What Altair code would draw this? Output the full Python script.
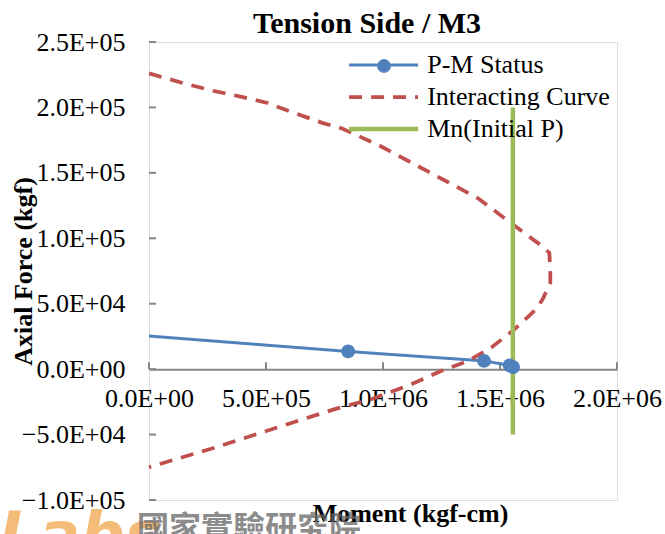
import altair as alt
import pandas as pd

# Series names and Excel-style colours
SERIES = ["P-M Status", "Interacting Curve", "Mn(Initial P)"]
COLORS = ["#4F81BD", "#C0504D", "#9BBB59"]

# P-M status path (moment kgf-cm, axial force kgf)
status_m = [0, 851000, 1432000, 1541000, 1556000]
status_p = [25300, 13500, 6300, 2900, 1600]

# Interaction curve (tension side)
curve_m = [0, 145700, 266000, 386600, 506800, 620000, 740500, 825000, 981000,
           1194000, 1406000, 1604000, 1682000, 1711000, 1715000, 1715000,
           1682000, 1654000, 1562000, 1463000, 1364000, 1250000, 1123000,
           953000, 797000, 528000, 287600, 0]
curve_p = [226000, 218600, 213000, 208500, 203400, 195800, 188200, 183900, 171200,
           150900, 130600, 104000, 93800, 88800, 73600, 66000,
           53300, 45700, 30400, 16500, 6300, -1300, -11400,
           -22800, -30400, -45700, -59600, -75000]

# Nominal moment at the initial axial load
mn_m = [1555000, 1555000]
mn_p = [-50000, 200000]

# Axis tick values
x_ticks = [0, 500000, 1000000, 1500000, 2000000]
y_ticks = [-100000, -50000, 0, 50000, 100000, 150000, 200000, 250000]

rows = []
for name, ms, ps in [(SERIES[0], status_m, status_p),
                     (SERIES[1], curve_m, curve_p),
                     (SERIES[2], mn_m, mn_p)]:
    for i, (m, p) in enumerate(zip(ms, ps)):
        rows.append({"series": name, "M": m, "P": p, "idx": i})
lines_df = pd.DataFrame(rows)
markers_df = pd.DataFrame({"series": SERIES[0], "M": status_m[1:], "P": status_p[1:]})
xtick_df = pd.DataFrame({"M": x_ticks, "P": [0] * len(x_ticks)})
ytick_df = pd.DataFrame({"P": y_ticks})

FONT = "Liberation Serif"
GRAY = "#868686"

sci = ("datum.value == 0 ? '0.0E+00' : "
       "format(datum.value / pow(10, floor(log(abs(datum.value)) / LN10 + 1e-9)), '.1f')"
       " + 'E+0' + floor(log(abs(datum.value)) / LN10 + 1e-9)")

x_axis = alt.Axis(values=x_ticks, labelExpr=sci, offset=-130.86, domainColor=GRAY,
                  domainWidth=2, ticks=False, grid=False, labelFontSize=26,
                  labelFont=FONT, labelColor="black", labelPadding=16,
                  labelFlush=False, labelOverlap=False,
                  title="Moment (kgf-cm)", titleFont=FONT, titleFontSize=26,
                  titleFontWeight="bold", titleColor="black", titleX=261,
                  titleY=152, titleBaseline="alphabetic", titleAnchor="middle")
y_axis = alt.Axis(values=y_ticks, labelExpr=sci, domain=False, ticks=False, grid=False,
                  labelFontSize=26, labelFont=FONT, labelColor="black", labelPadding=24,
                  labelOverlap=False,
                  title="Axial Force (kgf)", titleFont=FONT, titleFontSize=26,
                  titleFontWeight="bold", titleColor="black", titleX=-126,
                  titleY=229, titleBaseline="middle", titleAnchor="middle")

x_enc = alt.X("M:Q", scale=alt.Scale(domain=[0, 2000000], nice=False, zero=False), axis=x_axis)
y_enc = alt.Y("P:Q", scale=alt.Scale(domain=[-100000, 250000], nice=False, zero=False), axis=y_axis)

# long horizontal legend swatch drawn from a small symbol size
series_legend = alt.Legend(orient="none", legendX=221.6, legendY=10, title=None,
                           symbolType="M-5,0H5", symbolSize=190.4, symbolStrokeWidth=3.5,
                           labelFont=FONT, labelFontSize=26, labelColor="black",
                           labelOffset=30.6, labelLimit=400, rowPadding=6, padding=0)

lines = alt.Chart(lines_df).mark_line().encode(
    x=x_enc, y=y_enc,
    color=alt.Color("series:N", scale=alt.Scale(domain=SERIES, range=COLORS),
                    legend=series_legend),
    strokeDash=alt.StrokeDash("series:N",
                              scale=alt.Scale(domain=SERIES, range=[[1, 0], [13, 9], [1, 0]]),
                              legend=series_legend),
    strokeWidth=alt.StrokeWidth("series:N",
                                scale=alt.Scale(domain=SERIES, range=[3, 4.5, 3.5]),
                                legend=None),
    detail="series:N",
    order="idx:Q",
)

markers = alt.Chart(markers_df).mark_point(filled=True, size=190, opacity=1,
                                           color=COLORS[0]).encode(
    x=x_enc, y=y_enc,
    shape=alt.Shape("series:N", scale=alt.Scale(domain=[SERIES[0]], range=["circle"]),
                    legend=alt.Legend(orient="none", legendX=222, legendY=11, title=None,
                                      symbolFillColor=COLORS[0], symbolStrokeWidth=0,
                                      symbolSize=190, labelOpacity=0, labelExpr="''",
                                      padding=0, labelFontSize=26, labelFont=FONT)),
)

# inward tick marks on the left border and on the zero line
ytick_marks = alt.Chart(ytick_df).mark_rule(color=GRAY, strokeWidth=2).encode(
    y=y_enc, x=alt.value(0), x2=alt.value(7))
xtick_marks = alt.Chart(xtick_df).mark_rule(color=GRAY, strokeWidth=2, yOffset=-7).encode(
    x=x_enc, y=y_enc, y2=alt.Y2("P"))

# chart heading
heading = alt.Chart(pd.DataFrame({"t": ["Tension Side / M3"]})).mark_text(
    font=FONT, fontSize=30, fontWeight="bold", color="black",
    align="center", baseline="alphabetic").encode(
    text="t:N", x=alt.value(218), y=alt.value(-9))

# institute logo text at the bottom
logo_en = alt.Chart(pd.DataFrame({"t": ["Labs"]})).mark_text(
    font="DejaVu Sans", fontSize=62, fontWeight="bold", fontStyle="italic",
    color="#EFA040", opacity=0.7, align="left", baseline="alphabetic").encode(
    text="t:N", x=alt.value(-150), y=alt.value(514))
logo_zh = alt.Chart(pd.DataFrame({"t": ["國家實驗研究院"]})).mark_text(
    font="Noto Sans CJK TC", fontSize=32, fontWeight="bold", color="#666666",
    opacity=0.75, align="left", baseline="alphabetic").encode(
    text="t:N", x=alt.value(-12), y=alt.value(497))

chart = alt.layer(logo_en, logo_zh, ytick_marks, xtick_marks, lines, markers,
                  heading).properties(
    width=468, height=458,
    autosize=alt.AutoSizeParams(type="none"),
    padding={"left": 149, "top": 42, "right": 48, "bottom": 34},
).configure_view(
    stroke=GRAY, strokeWidth=2
).configure(background="white")

chart.save("out.html", embed_options={"renderer": "svg", "actions": False})
